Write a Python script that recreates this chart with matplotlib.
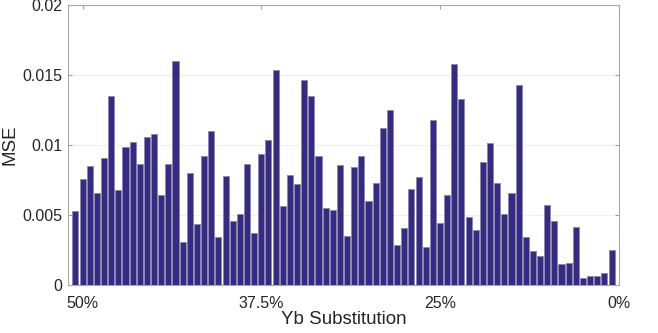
import numpy as np
import matplotlib
matplotlib.use('Agg')
import matplotlib.pyplot as plt

# MSE per composition step (76 bars, 50% -> 0% Yb)
mse = [0.00531, 0.00757, 0.00848, 0.00657, 0.00910, 0.01355, 0.00681, 0.00986,
       0.01021, 0.00864, 0.01057, 0.01079, 0.00643, 0.00862, 0.01605, 0.00307,
       0.00798, 0.00436, 0.00919, 0.01098, 0.00345, 0.00776, 0.00455, 0.00505,
       0.00864, 0.00369, 0.00936, 0.01038, 0.01540, 0.00567, 0.00788, 0.00724,
       0.01464, 0.01355, 0.00921, 0.00548, 0.00538, 0.00857, 0.00348, 0.00845,
       0.00921, 0.00600, 0.00731, 0.01121, 0.01248, 0.00283, 0.00410, 0.00690,
       0.00771, 0.00274, 0.01183, 0.00443, 0.00645, 0.01583, 0.01331, 0.00483,
       0.00395, 0.00883, 0.01012, 0.00729, 0.00505, 0.00655, 0.01431, 0.00340,
       0.00240, 0.00205, 0.00571, 0.00455, 0.00150, 0.00155, 0.00412, 0.00050,
       0.00064, 0.00064, 0.00088, 0.00250]
tick_pos = [2, 27, 52, 77]
tick_labels = ['50%', '37.5%', '25%', '0%']
y_ticks = [0, 0.005, 0.01, 0.015, 0.02]
y_labels = ['0', '0.005', '0.01', '0.015', '0.02']

plt.rcParams['font.family'] = ['Liberation Sans', 'DejaVu Sans']

fig = plt.figure(figsize=(6.58, 3.33), dpi=100)
ax = fig.add_axes([0.1038, 0.1441, 0.8365, 0.84])

x = np.arange(1, len(mse) + 1)
ax.bar(x, mse, width=0.85, color='#352A87', edgecolor='#8a8a9a', linewidth=0.6, zorder=3)

ax.set_xlim(0, 77)
ax.set_ylim(0, 0.02)
ax.set_xticks(tick_pos)
ax.set_xticklabels(tick_labels, fontsize=11.5)
ax.set_yticks(y_ticks)
ax.set_yticklabels(y_labels, fontsize=11.5)
ax.tick_params(direction='in', length=3, color='#a0a0a0', top=True, right=True,
               labelcolor='#262626')
ax.tick_params(axis='x', pad=8)
ax.tick_params(axis='y', pad=4)
ax.yaxis.grid(True, color='#efefef', linewidth=0.8, zorder=0)
for s in ax.spines.values():
    s.set_color('#a8a8a8')
    s.set_linewidth(0.8)

ax.set_xlabel('Yb Substitution', fontsize=13.5, color='#262626', labelpad=0)
ax.set_ylabel('MSE', fontsize=13.5, color='#262626', labelpad=3)

fig.savefig('out.png', dpi=100)
